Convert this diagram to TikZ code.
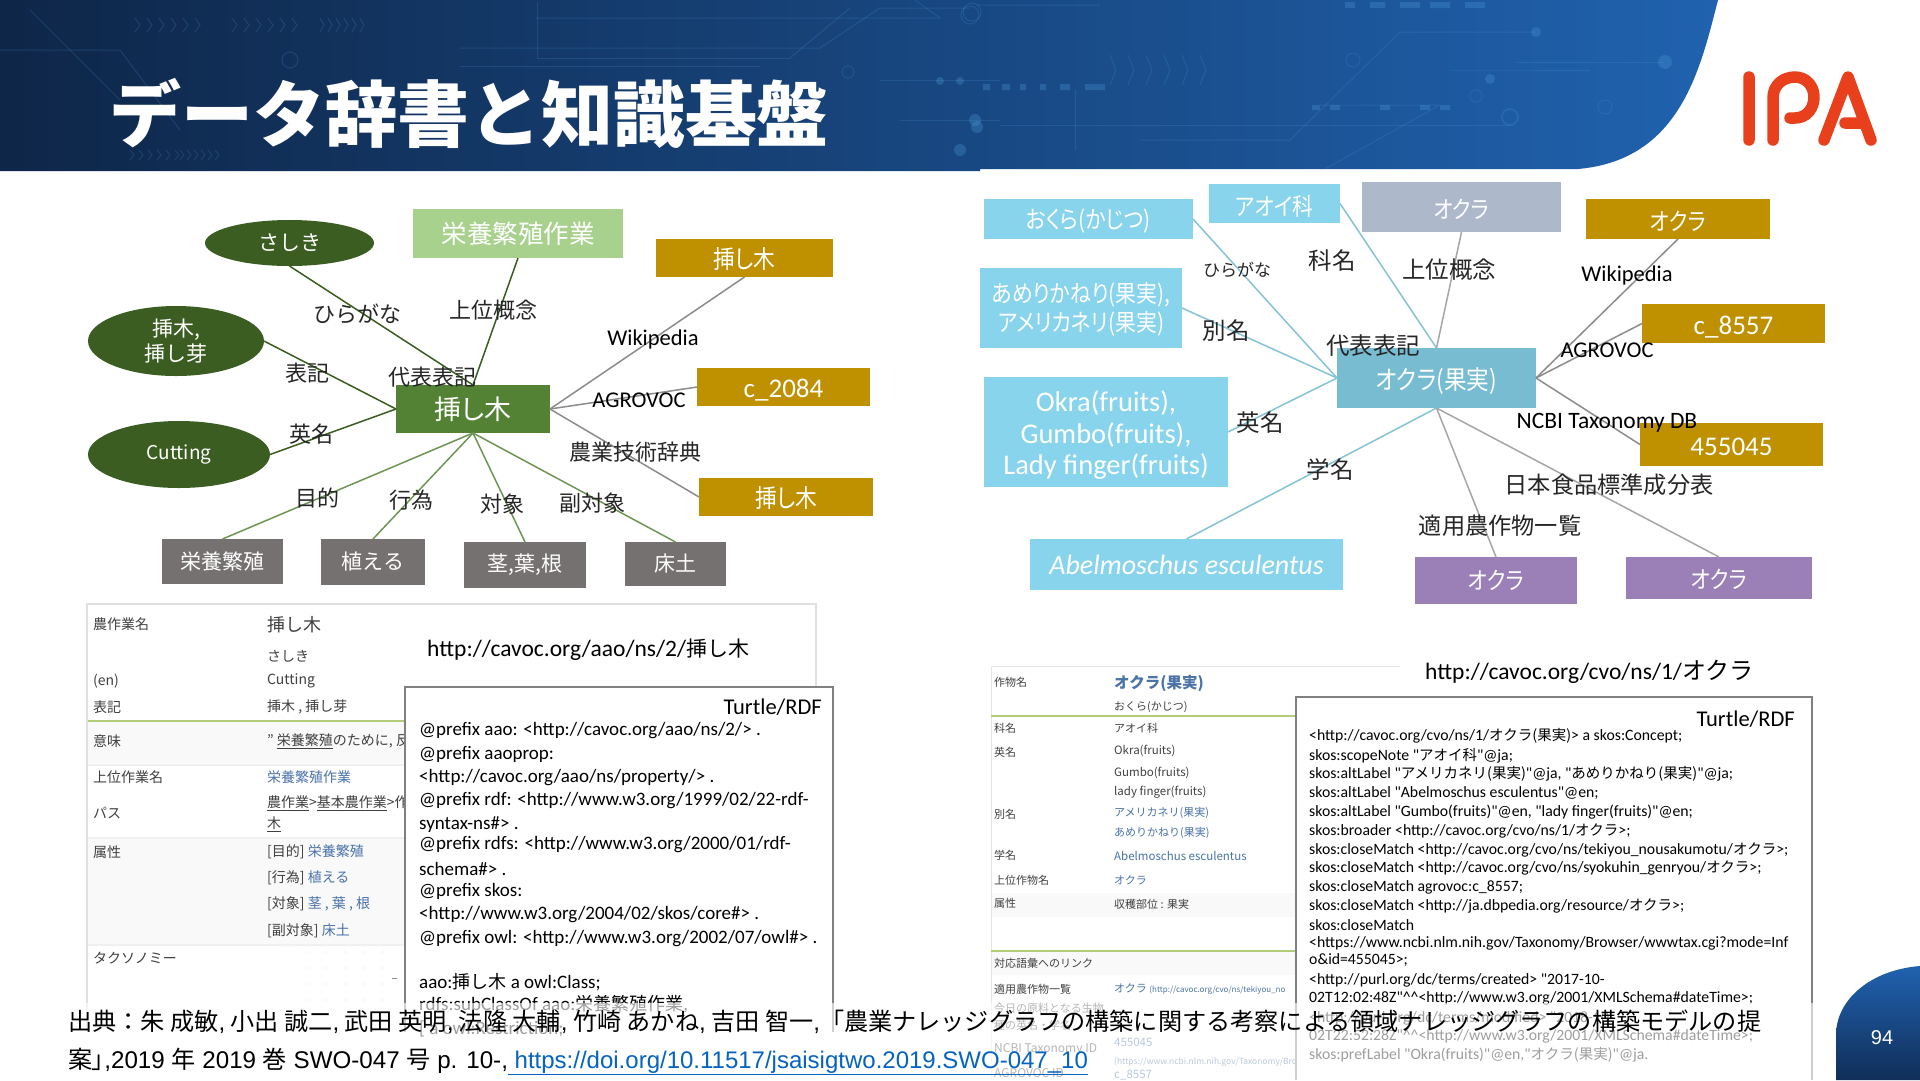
\documentclass[tikz,border=0pt]{standalone}
\usepackage{fontspec}
\usetikzlibrary{shapes.geometric}
\setmainfont{Noto Sans CJK JP}
\newfontfamily\cali{Carlito}
\newfontfamily\hel{Liberation Sans}
\newfontfamily\pj[RawFeature=+palt]{Noto Sans CJK JP}
\newfontfamily\pjn[RawFeature=+palt,FakeStretch=0.87]{Noto Sans CJK JP}
\definecolor{gdark}{HTML}{3B5D21}
\definecolor{gmid}{HTML}{548235}
\definecolor{glight}{HTML}{A9D18E}
\definecolor{gline}{HTML}{B2CC78}
\definecolor{gold}{HTML}{BF9000}
\definecolor{greybox}{HTML}{767171}
\definecolor{lblue}{HTML}{88D4EC}
\definecolor{mblue}{HTML}{78BCD1}
\definecolor{slate}{HTML}{ADB9CA}
\definecolor{purp}{HTML}{9B80B8}
\definecolor{linkb}{HTML}{4A73A8}
\definecolor{tabt}{HTML}{404040}
\definecolor{urlb}{HTML}{0563C1}
\definecolor{ipa}{HTML}{E8401C}
\definecolor{circ}{HTML}{4E9AD8}
\definecolor{navA}{HTML}{0E2648}
\definecolor{navB}{HTML}{133869}
\definecolor{navC}{HTML}{2062AF}
\definecolor{navD}{HTML}{102E58}
\newcommand\fs[1]{\fontsize{#1}{#1}\selectfont}
\newcommand\J[1]{{\rmfamily #1}}
\newcommand\bx[8][0]{\node[#7,minimum width={(#5-#3)*1pt},minimum height={(#6-#4)*1pt}] (#2) at ({(#3+#5)/2},{(#4+#6)/2}) {};
 \node[#7,fill=none,minimum width=0pt,minimum height=0pt] (#2t) at ([yshift=-#1pt]#2.center) {#8};}
\tikzset{
 flat/.style={rectangle,inner sep=0pt,outer sep=0pt,text=white,align=center,font=\pjn\fs{24}},
 oval/.style={ellipse,inner sep=0pt,outer sep=0pt,text=white,align=center,font=\fs{21},fill=gdark},
 lbl/.style={inner sep=0pt,font=\fs{22},text=black!85},
 lblr/.style={inner sep=0pt,font=\fs{23.5},text=black!85},
 lblc/.style={inner sep=0pt,font=\cali\fs{22.5},text=black},
 tl/.style={anchor=west,inner sep=0pt,font=\fs{14},text=tabt},
 tv/.style={anchor=west,inner sep=0pt,font=\fs{14},text=tabt},
 tlink/.style={anchor=west,inner sep=0pt,font=\fs{14},text=linkb},
 turt/.style={anchor=west,inner sep=0pt,font=\cali\fs{19},text=black,yshift=-1.5pt},
 turr/.style={anchor=west,inner sep=0pt,font=\cali\fs{15.75},text=black,yshift=-1.5pt},
 gl/.style={line width=1.5pt,draw=gdark},
 gm/.style={line width=1.5pt,draw=gmid!85},
 gy/.style={line width=1.5pt,draw=black!45},
 bl/.style={line width=1.5pt,draw=mblue!90},
 gr/.style={line width=1.5pt,draw=black!35},
 deco/.style={draw=circ,opacity=.2,line width=1pt},
 decof/.style={fill=circ,opacity=.3},
}
\begin{document}
\begin{tikzpicture}[x=1pt,y=-1pt]
\useasboundingbox (0,0) rectangle (1920,1080);
\fill[white] (0,0) rectangle (1920,1080);
% banner
\path[left color=navA,middle color=navB,right color=navC]
  (0,0) -- (1718,0) .. controls (1700,70) and (1680,160) .. (1578,169) -- (980,169) -- (980,171) -- (0,171) -- cycle;
% decorative circuit
\begin{scope}
\clip (0,0) -- (1718,0) .. controls (1700,70) and (1680,160) .. (1578,169) -- (980,169) -- (980,171) -- (0,171) -- cycle;
\draw[deco] (1517,62) -- (1664,62);
\fill[decof] (1665,62) circle (7);
\draw[deco] (1400,32) -- (1536,32) (1400,32) -- (1290,140) -- (1140,140);
\fill[decof] (1536,32) circle (5);
\draw[deco] (1450,70) -- (1490,70) -- (1590,70);
\draw[deco] (1320,105) -- (1440,105) -- (1325,169);
\draw[deco] (1000,125) -- (1510,125);
\draw[deco,line width=2pt] (1510,117) circle (8);
\draw[deco] (1476,96) circle (6);
\draw[deco] (1353,60) circle (7);
\draw[deco] (1605,107) circle (7);
\fill[decof] (1490,79) circle (5);
\fill[decof] (977,127) circle (6);
\draw[deco] (976,5) -- (1100,5) (970,15) circle (9);
\draw[deco] (1075,90) -- (1075,150);
\fill[decof] (983,84) rectangle (990,90) (1002,84) rectangle (1010,90) (1020,84) rectangle (1026,90) (1040,84) rectangle (1046,90) (1060,84) rectangle (1070,90) (1085,84) rectangle (1105,90);
\fill[decof] (1312,105) rectangle (1320,110) (1330,105) rectangle (1340,110) (1380,105) rectangle (1390,110) (1420,105) rectangle (1430,110) (1440,105) rectangle (1450,110);
\fill[decof] (1345,2) rectangle (1355,8) (1370,2) rectangle (1385,8) (1400,2) rectangle (1420,8) (1430,2) rectangle (1450,8) (1465,2) rectangle (1485,8);
\foreach \i in {0,...,5} {\draw[deco] ({1110+\i*18},55) -- ({1116+\i*18},70) -- ({1110+\i*18},85);}
\foreach \i in {0,...,5} {\draw[deco] ({135+\i*12},18) -- ({140+\i*12},25) -- ({135+\i*12},32) ({232+\i*12},18) -- ({237+\i*12},25) -- ({232+\i*12},32) ({320+\i*8},18) -- ({324+\i*8},25) -- ({320+\i*8},32);}
\foreach \i in {0,...,5} {\draw[deco] ({130+\i*9},150) -- ({134+\i*9},155) -- ({130+\i*9},160) ({180+\i*7},150) -- ({184+\i*7},155) -- ({180+\i*7},160);}
\draw[deco] (536,18) -- (940,18) -- (915,0);
\draw[deco] (460,48) -- (820,48) -- (880,8) -- (970,8);
\draw[deco] (537,2) -- (537,58) -- (790,58);
\draw[deco] (460,66) -- (760,66);
\draw[deco] (290,60) circle (8);
\draw[deco] (848,72) circle (6);
\draw[deco] (0,50) -- (120,50) -- (180,130);
\draw[deco] (790,58) -- (850,8);
\draw[deco] (30,10) -- (120,100);
\draw[deco] (880,80) -- (1000,80) (900,120) -- (1000,120);
\draw[deco] (972,12) circle (9);
\fill[decof] (940,81) circle (4) (960,81) circle (4) (975,120) circle (6) (960,150) circle (6);
\end{scope}
\node[inner sep=0pt,text=white,font=\bfseries\fs{72}] (title) at (469,113) {データ辞書と知識基盤};
% IPA logo
\draw[ipa,line width=11.5pt,line cap=round,line join=round]
  (1749,77) -- (1749,140)
  (1773,140) -- (1773,98) .. controls (1773,85) and (1783,77) .. (1795,77) .. controls (1806,77) and (1814,86) .. (1814,97) .. controls (1814,109) and (1806,118) .. (1795,118) -- (1790,118)
  (1824,140) -- (1848,77) -- (1871,140)
  (1845,123) -- (1862,123);
% ---------- left diagram
\bx{sashiki}{205}{220}{374}{266}{oval}{さしき}
\bx{eiyosagyo}{413}{209}{623}{258}{flat,fill=glight,font=\fs{25.5}}{栄養繁殖作業}
\bx[1]{wikil}{656}{239}{833}{277}{flat,fill=gold,font=\pjn\fs{25}}{挿し木}
\bx{hyoki}{88}{306}{264}{376}{oval}{挿木,\\[3pt]挿し芽}
\bx{cutting}{88}{421}{270}{488}{oval,font=\fs{19}}{Cutting}
\bx{cl}{396}{385}{550}{433}{flat,fill=gmid,font=\pj\fs{27}}{挿し木}
\bx[3]{agl}{697}{368}{870}{406}{flat,fill=gold,font=\cali\fs{27}}{c\_2084}
\bx[1]{gijl}{699}{478}{873}{516}{flat,fill=gold,font=\pjn\fs{25}}{挿し木}
\bx{bA}{162}{539}{283}{584}{flat,fill=greybox,font=\fs{21}}{栄養繁殖}
\bx{bB}{321}{539}{425}{585}{flat,fill=greybox,font=\fs{21}}{植える}
\bx{bC}{464}{542}{586}{588}{flat,fill=greybox,font=\fs{21}}{茎,葉,根}
\bx{bD}{625}{542}{726}{586}{flat,fill=greybox,font=\fs{21}}{床土}
\draw[gl] (sashiki.south) -- (cl.north);
\draw[gl] (eiyosagyo.south) -- (cl.north);
\draw[gl] (hyoki.east) -- (cl.west);
\draw[gl] (cutting.east) -- (cl.west);
\draw[gy] (wikil.south) -- (cl.east);
\draw[gy] (agl.west) -- (cl.east);
\draw[gy] (gijl.west) -- (cl.east);
\draw[gm] (bA.north) -- (cl.south);
\draw[gm] (bB.north) -- (cl.south);
\draw[gm] (bC.north) -- (cl.south);
\draw[gm] (bD.north) -- (cl.south);
\node[lbl] (l1) at (357,314) {ひらがな};
\node[lbl] (l2) at (493,310) {上位概念};
\node[lblc] (l3) at (653,339.5) {Wikipedia};
\node[lbl] (l4) at (307,373) {表記};
\node[lbl] (l5) at (432,377) {代表表記};
\node[lblc] (l6) at (639,400) {AGROVOC};
\node[lbl] (l7) at (311,434) {英名};
\node[lbl] (l8) at (635,452) {農業技術辞典};
\node[lbl] (l9) at (317,498) {目的};
\node[lbl] (l10) at (411,500) {行為};
\node[lbl] (l11) at (502,504) {対象};
\node[lbl] (l12) at (592,503) {副対象};
% ---------- right diagram
\bx[2.5]{ok1}{984}{199}{1193}{239}{flat,fill=lblue}{おくら(かじつ)}
\bx[2.5]{ok2}{1209}{184}{1340}{223}{flat,fill=lblue}{アオイ科}
\bx[2.5]{ok3}{1362}{182}{1561}{232}{flat,fill=slate}{オクラ}
\bx[2.5]{ok4}{1586}{199}{1770}{239}{flat,fill=gold}{オクラ}
\bx[1]{ok5}{980}{268}{1182}{348}{flat,fill=lblue}{あめりかねり(果実),\\[3pt]アメリカネリ(果実)}
\bx[3.5]{ok6}{1642}{304}{1825}{343}{flat,fill=gold,font=\cali\fs{27}}{c\_8557}
\bx[3]{cr}{1337}{348}{1536}{408}{flat,fill=mblue,font=\pjn\fs{26}}{オクラ(果実)}
\bx[3.5]{ok7}{984}{377}{1228}{487}{flat,fill=lblue,font=\cali\fs{28.5}}{Okra(fruits),\\[3pt]Gumbo(fruits),\\[3pt]Lady finger(fruits)}
\bx[2.5]{ok8}{1640}{423}{1823}{466}{flat,fill=gold,font=\cali\fs{27}}{455045}
\bx{ok9}{1030}{539}{1343}{590}{flat,fill=lblue,font=\cali\itshape\fs{28}}{Abelmoschus esculentus}
\bx{ok10}{1415}{557}{1577}{604}{flat,fill=purp}{オクラ}
\bx[1]{ok11}{1626}{557}{1812}{599}{flat,fill=purp}{オクラ}
\draw[bl] (ok1.east) -- (cr.west);
\draw[bl] (ok2.east) -- (cr.north);
\draw[gr] (ok3.south) -- (cr.north);
\draw[gy] (ok4.south) -- (cr.east);
\draw[bl] (ok5.east) -- (cr.west);
\draw[gy] (ok6.west) -- (cr.east);
\draw[bl] (ok7.east) -- (cr.west);
\draw[gy] (ok8.west) -- (cr.east);
\draw[bl] (ok9.north) -- (cr.south);
\draw[gr] (ok10.north) -- (cr.south);
\draw[gr] (ok11.north) -- (cr.south);
\node[lbl,font=\fs{17}] (r1) at (1237,270) {ひらがな};
\node[lblr] (r2) at (1332,261) {科名};
\node[lblr] (r3) at (1449,270) {上位概念};
\node[lblc] (r4) at (1627,275.5) {Wikipedia};
\node[lblr] (r5) at (1226,331) {別名};
\node[lblr] (r6) at (1373,346) {代表表記};
\node[lblc] (r7) at (1607,350) {AGROVOC};
\node[lblr] (r8) at (1260,423) {英名};
\node[lblc,font=\cali\fs{23.5}] (r9) at (1607,422.5) {NCBI Taxonomy DB};
\node[lblr] (r10) at (1330,470) {学名};
\node[lblr,font=\fs{23.2}] (r11) at (1609,485) {日本食品標準成分表};
\node[lblr,font=\fs{23.2}] (r12) at (1500,526) {適用農作物一覧};
% ---------- left table
\fill[black!2.5] (88,722) rectangle (405,763) (88,838) rectangle (405,945);
\draw[black!12,line width=1.5pt] (87,1032) -- (87,604) -- (816,604) -- (816,687);
\draw[black!6,line width=1.5pt] (88,765) -- (405,765) (88,838) -- (405,838) (88,945) -- (405,945);
\draw[gline,line width=1.5pt] (88,721) -- (405,721);
\node[tl] (ta1) at (93,624) {農作業名};
\node[tv,font=\fs{18}] (tb1) at (267,625) {挿し木};
\node[tv] (tb2) at (267,656) {さしき};
\node[tl] (ta3) at (93,681) {(en)};
\node[tv] (tb3) at (267,681) {Cutting};
\node[tl] (ta4) at (93,707) {表記};
\node[tv] (tb4) at (267,707) {挿木 , 挿し芽};
\node[tl] (ta5) at (93,741) {意味};
\node[tv] (tb5) at (267,741) {" \underline{栄養繁殖}のために, 反};
\node[tl] (ta6) at (93,777) {上位作業名};
\node[tlink] (tb6) at (267,777) {栄養繁殖作業};
\node[tl] (ta7) at (93,813) {パス};
\node[tv] (tb7) at (267,803) {\underline{農作業}>\underline{基本農作業}>作};
\node[tv] (tb7b) at (267,824) {\underline{木}};
\node[tl] (ta8) at (93,852) {属性};
\node[tv] (tb8) at (267,852) {[目的] \textcolor{linkb}{栄養繁殖}};
\node[tv] (tb9) at (267,878) {[行為] \textcolor{linkb}{植える}};
\node[tv] (tb10) at (267,904) {[対象] \textcolor{linkb}{茎 , 葉 , 根}};
\node[tv] (tb11) at (267,931) {[副対象] \textcolor{linkb}{床土}};
\node[tl] (ta9) at (93,958) {タクソノミー};
\foreach \x in {288,307,326,345,364,383} \foreach \y in {952,968,984,1000} \fill[black!15] (\x,\y) circle (.7);
\draw[black!45,line width=1pt] (392,978) -- (397,978);
\node[inner sep=0pt,anchor=west,font=\cali\fs{23.5}] (urll) at (427,649.5) {http://cavoc.org/aao/ns/2/\J{\fs{21}挿し木}};
\fill[white] (405,687) rectangle (833,1032);
\draw[black!50,line width=1.5pt] (405,1032) -- (405,687) -- (833,687) -- (833,1032);
\node[inner sep=0pt,anchor=east,font=\cali\fs{22.5}] (tur1) at (822,707) {Turtle/RDF};
\node[turt] (t1) at (419,729) {@prefix aao: <http://cavoc.org/aao/ns/2/> .};
\node[turt] (t2) at (419,753) {@prefix aaoprop:};
\node[turt] (t3) at (419,776) {<http://cavoc.org/aao/ns/property/> .};
\node[turt] (t4) at (419,799) {@prefix rdf: <http://www.w3.org/1999/02/22-rdf-};
\node[turt] (t5) at (419,823) {syntax-ns\#> .};
\node[turt] (t6) at (419,843) {@prefix rdfs: <http://www.w3.org/2000/01/rdf-};
\node[turt] (t7) at (419,867) {schema\#> .};
\node[turt] (t8) at (419,890) {@prefix skos:};
\node[turt] (t9) at (419,913) {<http://www.w3.org/2004/02/skos/core\#> .};
\node[turt] (t10) at (419,937) {@prefix owl: <http://www.w3.org/2002/07/owl\#> .};
\node[turt] (t11) at (419,981) {aao:\J{\fs{18}挿し木} a owl:Class;};
\node[turt] (t12) at (419,1003) {rdfs:subClassOf aao:\J{\fs{18}栄養繁殖作業},};
\node[turt] (t13) at (419,1027) {[ a owl:Restriction;};
% ---------- right table
\fill[black!2.5] (991,893) rectangle (1296,917) (991,952) rectangle (1296,975);
\draw[black!10,line width=1pt] (991,1080) -- (991,666) -- (1400,666);
\draw[gline,line width=1.5pt] (991,716) -- (1296,716) (991,951) -- (1296,951);
\node[tl,font=\fs{11}] (ra1) at (994,682) {作物名};
\node[tv,font=\bfseries\fs{15.5},text=linkb] (rb1) at (1114,683) {オクラ(果実)};
\node[tv,font=\fs{11}] (rb2) at (1114,707) {おくら(かじつ)};
\node[tl,font=\fs{11}] (ra3) at (994,728) {科名};
\node[tv,font=\fs{11}] (rb3) at (1114,728) {アオイ科};
\node[tl,font=\fs{11}] (ra4) at (994,752) {英名};
\node[tv,font=\fs{11.5}] (rb4) at (1114,751) {Okra(fruits)};
\node[tv,font=\fs{11.5}] (rb5) at (1114,773) {Gumbo(fruits)};
\node[tv,font=\fs{11.5}] (rb6) at (1114,792) {lady finger(fruits)};
\node[tl,font=\fs{11}] (ra7) at (994,814) {別名};
\node[tlink,font=\fs{11}] (rb7) at (1114,813) {アメリカネリ(果実)};
\node[tlink,font=\fs{11}] (rb8) at (1114,833) {あめりかねり(果実)};
\node[tl,font=\fs{11}] (ra9) at (994,855) {学名};
\node[tlink,font=\fs{11.5}] (rb9) at (1114,856) {Abelmoschus esculentus};
\node[tl,font=\fs{11}] (ra10) at (994,880) {上位作物名};
\node[tlink,font=\fs{11}] (rb10) at (1114,880) {オクラ};
\node[tl,font=\fs{11}] (ra11) at (994,903) {属性};
\node[tv,font=\fs{11}] (rb11) at (1114,904) {収穫部位 : 果実};
\node[tl,font=\fs{11}] (ra12) at (994,963) {対応語彙へのリンク};
\node[tl,font=\fs{11}] (ra13) at (994,989) {適用農作物一覧};
\node[tlink,font=\fs{11}] (rb13) at (1114,989) {オクラ \fs{8}(http://cavoc.org/cvo/ns/tekiyou\_no};
\node[tl,font=\fs{11}] (ra14) at (994,1008) {今日の原料となる生物};
\node[tl,font=\fs{11}] (ra15) at (994,1025) {種の英名・学名};
\node[tl,font=\fs{12}] (ra16) at (994,1049) {NCBI Taxonomy ID};
\node[tlink,font=\fs{11.5}] (rb16) at (1114,1042) {455045};
\node[tlink,font=\fs{8.5}] (rb17) at (1114,1062) {(https://www.ncbi.nlm.nih.gov/Taxonomy/Bro};
\node[tl,font=\fs{12}] (ra18) at (994,1073) {AGROVOC ID};
\node[tlink,font=\fs{11.5}] (rb18) at (1114,1075) {c\_8557};
\node[inner sep=0pt,anchor=west,font=\cali\fs{23.5}] (urlr) at (1425,672) {http://cavoc.org/cvo/ns/1/\J{\fs{24}オクラ}};
\fill[white] (1296,697) rectangle (1812,1080);
\draw[black!50,line width=1.5pt] (1296,1080) -- (1296,697) -- (1812,697) -- (1812,1080);
\node[inner sep=0pt,anchor=east,font=\cali\fs{22.5}] (tur2) at (1795,719) {Turtle/RDF};
\node[turr] (s1) at (1309,734) {<http://cavoc.org/cvo/ns/1/\J{\fs{14.5}オクラ(果実)}> a skos:Concept;};
\node[turr] (s2) at (1309,754) {skos:scopeNote "\J{\fs{14.5}アオイ科}"@ja;};
\node[turr] (s3) at (1309,772) {skos:altLabel "\J{\fs{14.5}アメリカネリ(果実)}"@ja, "\J{\fs{14.5}あめりかねり(果実)}"@ja;};
\node[turr] (s4) at (1309,792) {skos:altLabel "Abelmoschus esculentus"@en;};
\node[turr] (s5) at (1309,811) {skos:altLabel "Gumbo(fruits)"@en, "lady finger(fruits)"@en;};
\node[turr] (s6) at (1309,829) {skos:broader <http://cavoc.org/cvo/ns/1/\J{\fs{14.5}オクラ}>;};
\node[turr] (s7) at (1309,848) {skos:closeMatch <http://cavoc.org/cvo/ns/tekiyou\_nousakumotu/\J{\fs{14.5}オクラ}>;};
\node[turr] (s8) at (1309,866) {skos:closeMatch <http://cavoc.org/cvo/ns/syokuhin\_genryou/\J{\fs{14.5}オクラ}>;};
\node[turr] (s9) at (1309,886) {skos:closeMatch agrovoc:c\_8557;};
\node[turr] (s10) at (1309,904) {skos:closeMatch <http://ja.dbpedia.org/resource/\J{\fs{14.5}オクラ}>;};
\node[turr] (s11) at (1309,924) {skos:closeMatch};
\node[turr] (s12) at (1309,942) {<https://www.ncbi.nlm.nih.gov/Taxonomy/Browser/wwwtax.cgi?mode=Inf};
\node[turr] (s13) at (1309,959) {o\&id=455045>;};
\node[turr] (s14) at (1309,979) {<http://purl.org/dc/terms/created> "2017-10-};
\node[turr] (s15) at (1309,997) {02T12:02:48Z"\^{}\^{}<http://www.w3.org/2001/XMLSchema\#dateTime>;};
\node[turr] (s16) at (1309,1017) {<http://purl.org/dc/terms/modified> "2018-10-};
\node[turr] (s17) at (1309,1035) {02T22:52:28Z"\^{}\^{}<http://www.w3.org/2001/XMLSchema\#dateTime>;};
\node[turr] (s18) at (1309,1053) {skos:prefLabel "Okra(fruits)"@en,"\J{\fs{14.5}オクラ(果実)}"@ja.};
% ---------- citation overlay
\fill[white,opacity=.62] (60,1003) rectangle (1836,1080);
% page tab
\path[top color=navC,bottom color=navD]
  (1920,966) .. controls (1870,970) and (1836,1000) .. (1836,1035) -- (1836,1080) -- (1920,1080) -- cycle;
\node[inner sep=0pt,text=white,font=\hel\fs{20}] (pg) at (1882,1038) {94};
\node[inner sep=0pt,anchor=west,font=\fs{24.15},text=black] (c1) at (68,1021.5) {出典：朱 成敏{\hel ,} 小出 誠二{\hel ,} 武田 英明{\hel ,} 法隆 大輔{\hel ,} 竹崎 あかね{\hel ,} 吉田 智一{\hel ,}「農業ナレッジグラフの構築に関する考察による領域ナレッジグラフの構築モデルの提};
\node[inner sep=0pt,anchor=west,font=\fs{24.15},text=black] (c2) at (68,1061.5) {{\pj 案」}{\hel ,2019 }年{\hel{} 2019 }巻{\hel{} SWO-047 }号{\hel{} p. 10-,}\textcolor{urlb}{\underline{\hel\fs{24} https://doi.org/10.11517/jsaisigtwo.2019.SWO-047\_10}}};
\end{tikzpicture}
\end{document}
